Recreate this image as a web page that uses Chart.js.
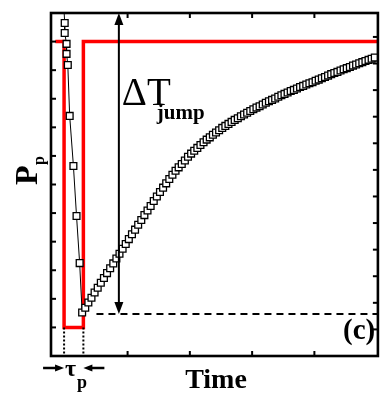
<!DOCTYPE html>
<html>
<head>
<meta charset="utf-8">
<script src="https://cdn.jsdelivr.net/npm/chart.js@4.4.1/dist/chart.umd.min.js"></script>
<style>body{margin:0;background:#fff}</style>
</head>
<body>
<canvas id="grafik" width="384" height="394"></canvas>
<script>
// time in tick units (first tick = 0), P_p in left tick units
const dropTime = [-1.03, -1.01, -1.01, -0.98, -0.98, -0.96, -0.93, -0.87, -0.82, -0.77];
const dropP    = [12.5, 11.65, 11.30, 10.92, 10.57, 10.18, 8.40, 6.65, 4.90, 3.25];

const riseTime = [-0.73,-0.68,-0.63,-0.58,-0.53,-0.48,-0.43,-0.38,-0.33,-0.28,
  -0.23,-0.18,-0.13,-0.08,-0.03,0.02,0.07,0.12,0.17,0.22,
  0.27,0.32,0.37,0.42,0.47,0.52,0.57,0.62,0.67,0.72,
  0.77,0.82,0.87,0.92,0.97,1.02,1.07,1.12,1.17,1.22,
  1.27,1.32,1.37,1.42,1.47,1.52,1.57,1.62,1.67,1.72,
  1.77,1.82,1.87,1.92,1.97,2.02,2.07,2.12,2.17,2.22,
  2.27,2.32,2.37,2.42,2.47,2.52,2.57,2.62,2.67,2.72,
  2.77,2.82,2.87,2.92,2.97,3.02,3.07,3.12,3.17,3.22,
  3.27,3.32,3.37,3.42,3.47,3.52,3.57,3.62,3.67,3.72,
  3.77,3.82,3.87,3.92,3.97];
const riseP = [1.52,1.69,1.87,2.04,2.22,2.39,2.56,2.73,2.90,3.07,
  3.24,3.41,3.58,3.75,3.92,4.09,4.26,4.42,4.59,4.76,
  4.93,5.09,5.25,5.42,5.58,5.74,5.89,6.04,6.19,6.34,
  6.48,6.60,6.72,6.84,6.97,7.08,7.18,7.28,7.38,7.48,
  7.57,7.65,7.74,7.82,7.90,7.98,8.05,8.12,8.19,8.26,
  8.32,8.39,8.45,8.51,8.57,8.63,8.69,8.74,8.80,8.86,
  8.91,8.96,9.01,9.07,9.12,9.17,9.22,9.27,9.31,9.36,
  9.41,9.45,9.50,9.54,9.58,9.63,9.67,9.72,9.76,9.81,
  9.86,9.90,9.94,9.99,10.03,10.07,10.11,10.16,10.20,10.24,
  10.28,10.32,10.36,10.40,10.44];

// heating pulse (red)
const pulseTime = [-1.16, -1.02, -1.02, -0.71, -0.71, 4.02];
const pulseP    = [11, 11, 1, 1, 11, 11];
const pulseStart = -1.02, pulseEnd = -0.71;

const baseLevel = 1.47, baseFrom = -0.50;   // dashed line
const jumpTime = -0.14, jumpTop = 12;        // Delta T arrow

const timeTicks = [0, 1, 2, 3];
const leftTicks = [1, 2, 3, 4, 5, 6, 7, 8, 9, 10, 11];
const rightTicks = [1, 2, 3, 4, 5, 6, 7, 8, 9, 10, 11, 12];

const SERIF = '"Liberation Serif", "Times New Roman", serif';

const toPts = (xs, ys) => xs.map((x, i) => ({ x, y: ys[i] }));

function garis(ctx, x1, y1, x2, y2) {
    ctx.beginPath(); ctx.moveTo(x1, y1); ctx.lineTo(x2, y2); ctx.stroke();
}

function kepala(ctx, x, y, ang, len, half) {
    ctx.save(); ctx.translate(x, y); ctx.rotate(ang);
    ctx.beginPath(); ctx.moveTo(0, 0); ctx.lineTo(-len, -half); ctx.lineTo(-len, half); ctx.closePath(); ctx.fill();
    ctx.restore();
}

const hiasan = {
    id: 'hiasan',
    afterDatasetsDraw(chart) {
        const { ctx, chartArea: a, scales: { x, y } } = chart;
        ctx.save();
        ctx.strokeStyle = '#000'; ctx.fillStyle = '#000';
        // dotted pulse edges
        ctx.lineWidth = 2; ctx.setLineDash([2, 2]);
        [pulseStart, pulseEnd].forEach(t => {
            const px = x.getPixelForValue(t);
            garis(ctx, px, y.getPixelForValue(1), px, a.bottom);
        });
        ctx.setLineDash([]);
        // Delta T arrow
        const ax = x.getPixelForValue(jumpTime);
        const yt = y.getPixelForValue(jumpTop), yb = y.getPixelForValue(baseLevel);
        ctx.lineWidth = 2;
        garis(ctx, ax, yt + 8, ax, yb - 8);
        kepala(ctx, ax, yt, -Math.PI / 2, 12, 4.5);
        kepala(ctx, ax, yb, Math.PI / 2, 12, 4.5);
        ctx.restore();
    },
    afterDraw(chart) {
        const { ctx, chartArea: a, scales: { x, y, y2 } } = chart;
        ctx.save();
        ctx.strokeStyle = '#000'; ctx.fillStyle = '#000';
        // frame + inward ticks
        ctx.lineWidth = 2.6;
        ctx.strokeRect(a.left, a.top, a.right - a.left, a.bottom - a.top);
        ctx.lineWidth = 2;
        timeTicks.forEach(t => {
            const px = x.getPixelForValue(t);
            garis(ctx, px, a.top, px, a.top + 5);
            garis(ctx, px, a.bottom, px, a.bottom - 5);
        });
        leftTicks.forEach(v => { const py = y.getPixelForValue(v); garis(ctx, a.left, py, a.left + 5, py); });
        rightTicks.forEach(v => { const py = y2.getPixelForValue(v); garis(ctx, a.right, py, a.right - 5, py); });

        // tau_p arrows under the axis
        const p0 = x.getPixelForValue(pulseStart), p1 = x.getPixelForValue(pulseEnd);
        const ya = a.bottom + 12;
        ctx.lineWidth = 2.5;
        garis(ctx, p0 - 21, ya, p0 - 6, ya);
        kepala(ctx, p0, ya, 0, 9, 3.5);
        garis(ctx, p1 + 21, ya, p1 + 6, ya);
        kepala(ctx, p1, ya, Math.PI, 9, 3.5);
        ctx.textBaseline = 'alphabetic'; ctx.textAlign = 'left';
        ctx.font = 'bold 24px ' + SERIF;
        ctx.fillText('τ', p0 + 1, a.bottom + 20);
        ctx.font = 'bold 18px ' + SERIF;
        ctx.fillText('p', p0 + 13, a.bottom + 32);

        // axis titles
        ctx.font = 'bold 28px ' + SERIF;
        ctx.textAlign = 'center';
        ctx.fillText('Time', 216, 388);
        ctx.save();
        ctx.translate(37, 185); ctx.rotate(-Math.PI / 2);
        ctx.textAlign = 'left';
        ctx.font = 'bold 32px ' + SERIF;
        ctx.fillText('P', 0, 0);
        ctx.font = 'bold 16px ' + SERIF;
        ctx.fillText('p', 20, 7);
        ctx.restore();

        // Delta T jump label
        const ax = x.getPixelForValue(jumpTime);
        ctx.textAlign = 'left';
        ctx.font = '39px ' + SERIF;
        ctx.fillText('ΔT', ax + 3, 105);
        ctx.font = 'bold 21px ' + SERIF;
        ctx.fillText('jump', ax + 38, 119);

        // panel tag
        ctx.font = 'bold 29px ' + SERIF;
        ctx.fillText('(c)', 343, 339);
        ctx.restore();
    }
};

new Chart(document.getElementById('grafik').getContext('2d'), {
    type: 'scatter',
    data: {
        datasets: [
            { data: toPts(dropTime.concat(riseTime), dropP.concat(riseP)), showLine: true,
              borderColor: '#000', borderWidth: 1, pointStyle: 'rect', pointRadius: 4.8,
              pointBackgroundColor: '#fff', pointBorderColor: '#000', pointBorderWidth: 1.3, order: 0 },
            { data: toPts([baseFrom, 4.02], [baseLevel, baseLevel]), showLine: true,
              borderColor: '#000', borderWidth: 2, borderDash: [7, 5], pointRadius: 0, order: 1 },
            { data: toPts(pulseTime, pulseP), showLine: true, borderColor: '#ff0000', borderWidth: 3.5,
              borderJoinStyle: 'miter', pointRadius: 0, order: 2 }
        ]
    },
    options: {
        responsive: false, animation: false, events: [],
        layout: { padding: { left: 51, right: 3, top: 13, bottom: 38 } },
        plugins: { legend: { display: false }, tooltip: { enabled: false } },
        scales: {
            x: { type: 'linear', min: -1.23, max: 4.02, display: false },
            y: { min: 0, max: 12, display: false },
            y2: { position: 'right', min: 0, max: 12.9, display: false }
        }
    },
    plugins: [hiasan]
});
</script>
</body>
</html>
